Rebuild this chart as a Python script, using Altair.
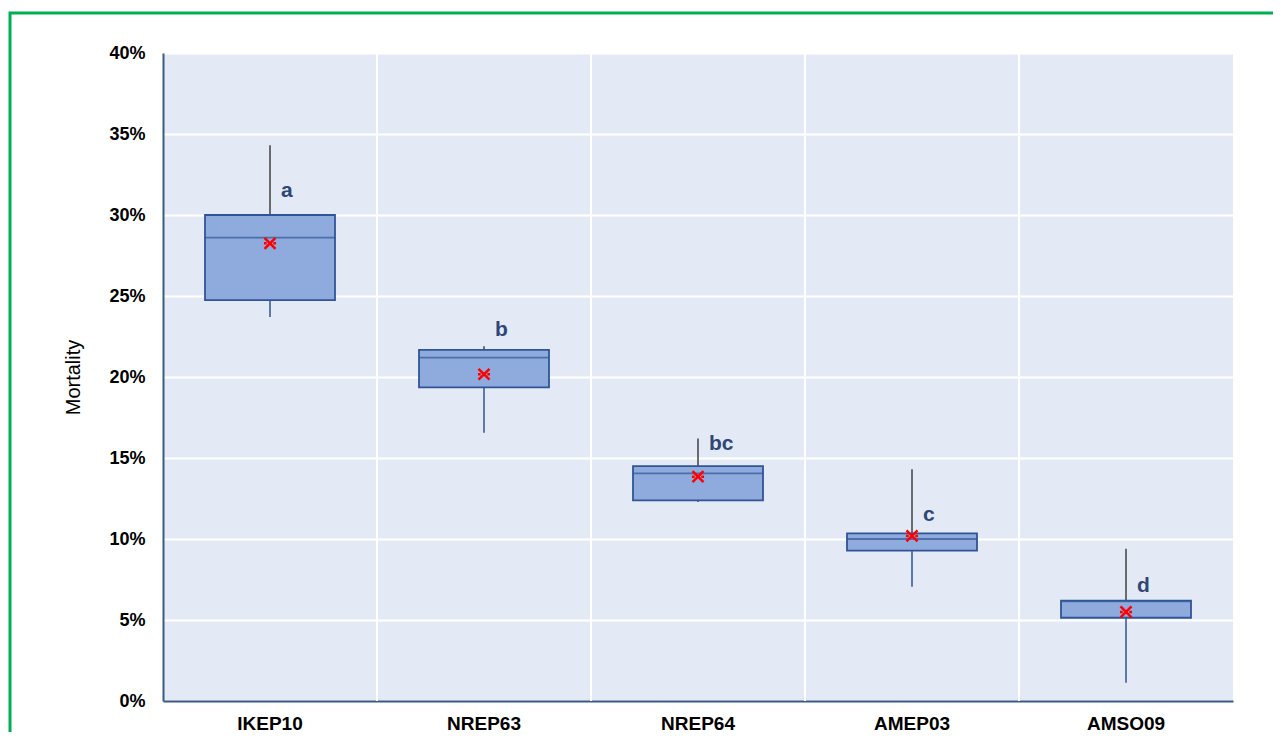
import altair as alt
import pandas as pd

cats = ["IKEP10", "NREP63", "NREP64", "AMEP03", "AMSO09"]
wmax = [0.343, 0.219, 0.162, 0.143, 0.094]
q3 = [0.300, 0.2167, 0.145, 0.1035, 0.062]
med = [0.286, 0.212, 0.1405, 0.100, 0.0615]
q1 = [0.2475, 0.1936, 0.1239, 0.0928, 0.0514]
wmin = [0.237, 0.1656, 0.1228, 0.0706, 0.0113]
mean = [0.2825, 0.2017, 0.1385, 0.1019, 0.055]
letters = ["a", "b", "bc", "c", "d"]
letter_y = [0.315, 0.229, 0.1586, 0.1148, 0.0712]
yticks = [0, 0.05, 0.10, 0.15, 0.20, 0.25, 0.30, 0.35, 0.40]

df = pd.DataFrame({
    "cat": cats, "wmax": wmax, "q3": q3, "med": med, "q1": q1,
    "wmin": wmin, "mean": mean, "letter": letters, "ly": letter_y,
})

FONT = "Liberation Sans"
BOX_FILL = "#8FAADC"
BOX_STROKE = "#2F5597"

xscale = alt.Scale(domain=cats, paddingInner=0, paddingOuter=0)
yscale = alt.Scale(domain=[0, 0.4], nice=False)

X = alt.X("cat:N", scale=xscale, sort=cats, title=None,
          axis=alt.Axis(labelAngle=0, grid=False))
Xg = alt.X("cat:N", scale=xscale, sort=cats, title=None, bandPosition=0,
           axis=alt.Axis(labelAngle=0, grid=False))


def Y(field):
    return alt.Y(field, scale=yscale, title="Mortality",
                 axis=alt.Axis(values=yticks, format=".0%", grid=True))


base = alt.Chart(df)

vgrid = base.mark_rule(color="#FFFFFF", strokeWidth=2).encode(
    x=Xg
).transform_filter(alt.datum.cat != cats[0])

upper = base.mark_rule(color="#404040", strokeWidth=1.5).encode(
    x=X, y=Y("q3:Q"), y2="wmax:Q"
)
lower = base.mark_rule(color="#2F5597", strokeWidth=1.5).encode(
    x=X, y=Y("wmin:Q"), y2="q1:Q"
)
box = base.mark_bar(
    size=130, color=BOX_FILL, stroke=BOX_STROKE, strokeWidth=1.8
).encode(x=X, y=Y("q1:Q"), y2="q3:Q")
median = base.mark_tick(
    size=130, thickness=1.8, color=BOX_STROKE, orient="horizontal"
).encode(x=X, y=Y("med:Q"))
meanpt = base.mark_point(
    shape="M-1,-1L1,1M1,-1L-1,1M-1.1,0L-0.6,0M0.6,0L1.1,0",
    size=120, color="#FF0000", strokeWidth=2.5, filled=False, opacity=1,
).encode(x=X, y=Y("mean:Q"))
labels = base.mark_text(
    align="left", baseline="middle", dx=11, font=FONT, fontSize=21,
    fontWeight="bold", color="#2E4678",
).encode(x=X, y=Y("ly:Q"), text="letter:N")

border = alt.Chart(pd.DataFrame({"k": [0]})).mark_rect(
    fill=None, stroke="#00B050", strokeWidth=3, clip=False
).encode(
    x=alt.value(-153), x2=alt.value(1150), y=alt.value(-40), y2=alt.value(720)
)

chart = alt.layer(
    vgrid, upper, lower, box, median, meanpt, labels, border
).properties(
    width=1070, height=648,
    autosize=alt.AutoSizeParams(type="none"),
    padding={"left": 155, "top": 45, "right": 40, "bottom": 31},
    background="#FFFFFF",
).configure_view(
    fill="#E4EAF5", stroke=None
).configure_axis(
    labelFont=FONT, labelColor="#000000", labelFontWeight="bold",
    ticks=False, domainColor="#385A86", domainWidth=2,
    gridColor="#FFFFFF", gridWidth=2,
    titleFont=FONT, titleColor="#000000", titleFontWeight="normal",
).configure_axisX(
    labelFontSize=19, labelPadding=13,
).configure_axisY(
    labelFontSize=18, labelPadding=18, titleFontSize=20, titlePadding=25,
)

chart.save("out.html", embed_options={"renderer": "svg", "actions": False})
